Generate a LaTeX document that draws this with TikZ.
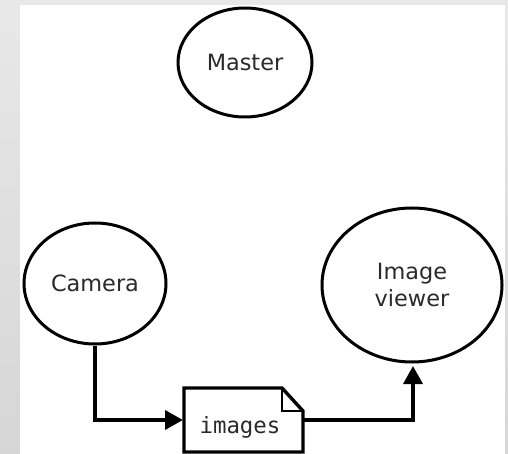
\documentclass[tikz,border=0pt]{standalone}
\usepackage{fontspec}
\setmainfont{DejaVu Sans}
\newfontfamily\monofont{DejaVu Sans Mono}
\usetikzlibrary{arrows.meta,shapes.geometric}
\definecolor{bgtop}{HTML}{E8E8E8}
\definecolor{bgbot}{HTML}{D6D6D6}
\definecolor{txt}{HTML}{2A2A2A}
\tikzset{
  proc/.style={draw=black, line width=3pt, ellipse, inner sep=0pt, text=txt, align=center,
    font=\fontsize{22.4}{27}\selectfont},
  conn/.style={draw=black, line width=3.6pt, -{Triangle[length=18pt,width=19pt]}},
  docline/.style={draw=black, line width=3.4pt, line join=miter},
}
\begin{document}
\begin{tikzpicture}[x=1pt,y=-1pt]
\useasboundingbox (0,0) rectangle (508,454);
\shade[top color=bgtop, bottom color=bgbot] (0,0) rectangle (508,454);
\fill[white] (20,5) rectangle (505,454);
\node[proc, minimum width=134pt, minimum height=109pt] (master) at (245,62.5) {Master};
\node[proc, minimum width=142pt, minimum height=121pt] (camera) at (95,283.5) {Camera};
\node[proc, minimum width=180pt, minimum height=154pt] (viewer) at (412,285) {Image\\viewer};
% document
\coordinate (dtl) at (184,388);
\coordinate (dfa) at (282,388);
\coordinate (dfb) at (303,411);
\coordinate (dbr) at (303,452);
\coordinate (dbl) at (184,452);
\coordinate (dfc) at (282,411);
\draw[docline, fill=white] (dtl) -- (dfa) -- (dfb) -- (dbr) -- (dbl) -- cycle;
\draw[line width=2pt] (dfa) -- (dfc) -- (dfb);
\node[text=txt, font=\monofont\fontsize{22.4}{27}\selectfont, inner sep=0pt] (images) at (240,427) {images};
\coordinate (docleft) at (183,420);
\coordinate (docright) at (303,420);
\coordinate (bend1) at (95,420);
\coordinate (bend2) at (413,420);
\coordinate (vtip) at (413,366);
\draw[conn] (camera.south) -- (bend1) -- (docleft);
\draw[conn] (docright) -- (bend2) -- (vtip);
\end{tikzpicture}
\end{document}
